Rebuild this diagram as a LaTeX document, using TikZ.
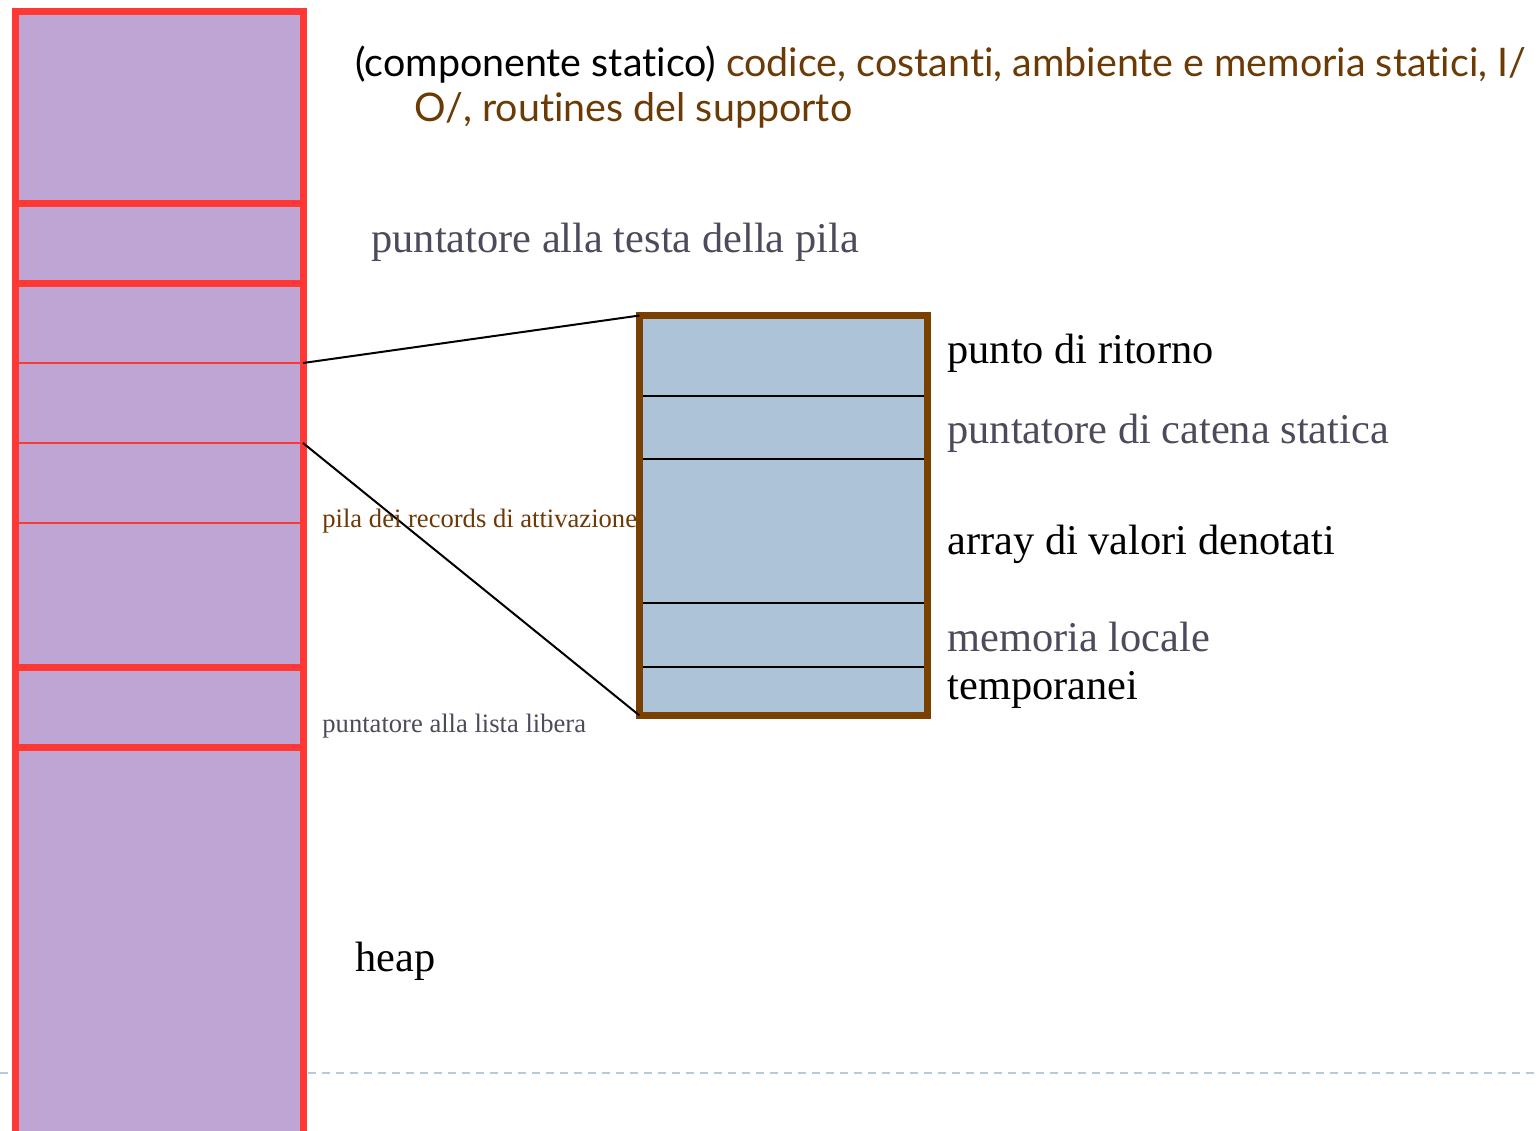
\documentclass[tikz,border=0pt]{standalone}
\usepackage{fontspec}
\setmainfont{Liberation Serif}
\newfontfamily\gillfont[Ligatures=NoCommon]{Lato}
\definecolor{colred}{HTML}{FF3833}
\definecolor{colpurple}{HTML}{BFA5D3}
\definecolor{colbrown}{HTML}{7A4000}
\definecolor{colblue}{HTML}{ADC3D8}
\definecolor{coltxtbrown}{HTML}{6B3A05}
\definecolor{colgray}{HTML}{4B4B5C}
\definecolor{coldash}{HTML}{B8C9DC}
\tikzset{
  bigtext/.style={anchor=base west, inner sep=0pt, font=\fontsize{21.2}{25}\selectfont},
  smalltext/.style={anchor=base west, inner sep=0pt, font=\fontsize{13.3}{15}\selectfont},
  gilltext/.style={anchor=base west, inner sep=0pt, font=\gillfont\fontsize{19.7}{23}\selectfont},
  segline/.style={colred, line width=3.5pt},
  thinred/.style={colred, line width=0.75pt},
  recline/.style={black, line width=1pt},
  link/.style={black, line width=1pt},
}
\begin{document}
\begin{tikzpicture}[x=0.5pt, y=-0.5pt]
\useasboundingbox (0,0) rectangle (1539,1131);
% dashed footer line
\draw[coldash, line width=1pt, dash pattern=on 4pt off 3pt] (0,1073) -- (1535,1073);
% memory column
\fill[colpurple] (15.5,11) rectangle (303,1131);
\foreach \yy in {363,443,523} \draw[thinred] (15.5,\yy) -- (303,\yy);
\draw[segline] (15.5,1135) -- (15.5,11) -- (303,11) -- (303,1135);
\foreach \yy in {203,283,667,747} \draw[segline] (15.5,\yy) -- (303,\yy);
\coordinate (s1) at (303,363);
\coordinate (s2) at (303,443);
% activation record
\fill[colblue] (639.5,315.5) rectangle (927.5,715.5);
\foreach \yy in {396,459,603,667} \draw[recline] (639.5,\yy) -- (927.5,\yy);
\draw[colbrown, line width=3.5pt] (639.5,315.5) rectangle (927.5,715.5);
\coordinate (rtl) at (639.5,315.5);
\coordinate (rbl) at (639.5,715.5);
\draw[link] (s1) -- (rtl);
\draw[link] (s2) -- (rbl);
% texts
\node[gilltext] (t1) at (355,76) {(componente statico) \textcolor{coltxtbrown}{codice, costanti, ambiente e memoria statici, I/}};
\node[gilltext, text=coltxtbrown] (t2) at (414,121) {O/, routines del supporto};
\node[bigtext, text=colgray] (t3) at (371,252) {puntatore alla testa della pila};
\node[bigtext] (t4) at (947,363) {punto di ritorno};
\node[bigtext, text=colgray] (t5) at (947,443) {puntatore di catena statica};
\node[bigtext] (t6) at (947,554) {array di valori denotati};
\node[bigtext, text=colgray] (t7) at (947,651) {memoria locale};
\node[bigtext] (t8) at (947,699) {temporanei};
\node[smalltext, text=coltxtbrown] (t9) at (322,527) {pila dei records di attivazione};
\node[smalltext, text=colgray] (t10) at (322,732) {puntatore alla lista libera};
\node[bigtext] (t11) at (355,971) {heap};
\end{tikzpicture}
\end{document}
